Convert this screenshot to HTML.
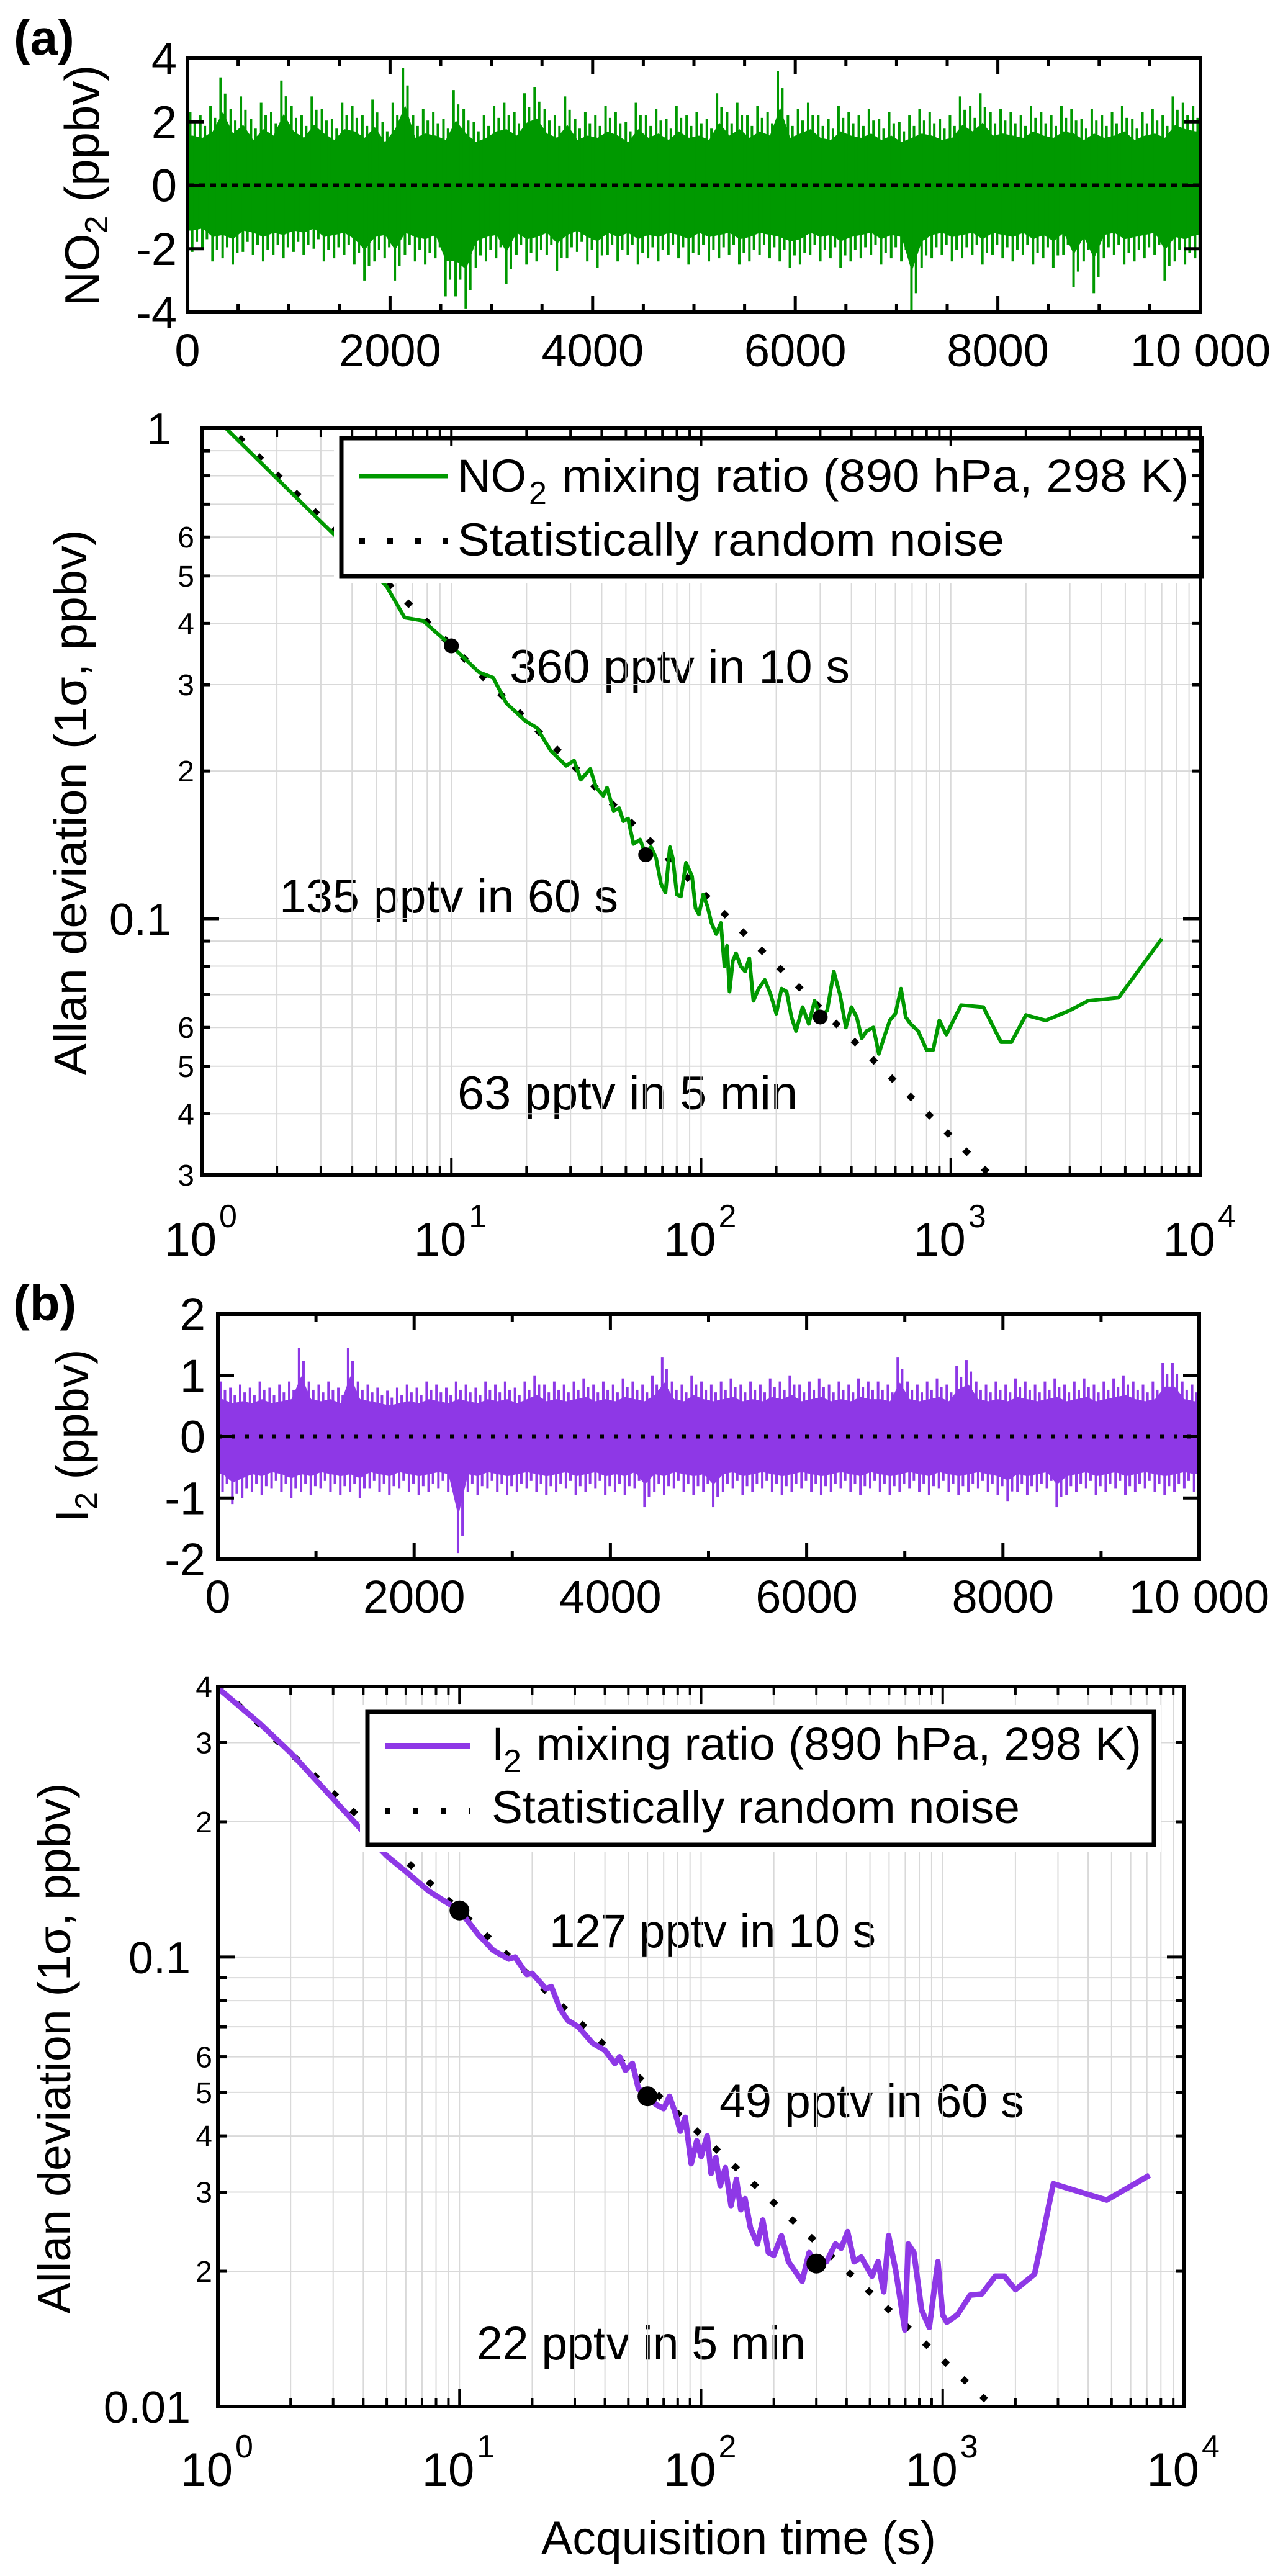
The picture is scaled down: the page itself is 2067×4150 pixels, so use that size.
<!DOCTYPE html>
<html><head><meta charset="utf-8"><title>Allan deviation NO2 and I2</title>
<style>
html,body{margin:0;padding:0;background:#fff;}
svg{display:block;font-family:"Liberation Sans",Arial,sans-serif;}
</style></head>
<body>
<svg id="fig" xmlns="http://www.w3.org/2000/svg" width="2067" height="4150" viewBox="0 0 2067 4150">
<rect x="0" y="0" width="2067" height="4150" fill="#fff"/>
<defs>
<clipPath id="clipAA"><rect x="325" y="690" width="1609" height="1203"/></clipPath>
<clipPath id="clipAB"><rect x="351" y="2717" width="1557" height="1160"/></clipPath>
</defs>
<text x="22" y="88" font-size="80" font-weight="bold">(a)</text>
<text x="21" y="2127" font-size="80" font-weight="bold">(b)</text>
<text transform="translate(159,299) rotate(-90)" text-anchor="middle" font-size="78">NO<tspan font-size="52" dy="14">2</tspan><tspan dy="-14"> (ppbv)</tspan></text>
<text transform="translate(142,2313) rotate(-90)" text-anchor="middle" font-size="74">I<tspan font-size="50" dy="14">2</tspan><tspan dy="-14"> (ppbv)</tspan></text>
<text transform="translate(139,1293) rotate(-90)" text-anchor="middle" font-size="74" textLength="879" lengthAdjust="spacingAndGlyphs">Allan deviation (1σ, ppbv)</text>
<text transform="translate(113,3300) rotate(-90)" text-anchor="middle" font-size="74" textLength="855" lengthAdjust="spacingAndGlyphs">Allan deviation (1σ, ppbv)</text>
<text x="872" y="4115" font-size="76" textLength="636" lengthAdjust="spacingAndGlyphs">Acquisition time (s)</text>
<text x="821" y="1100" font-size="76" textLength="548" lengthAdjust="spacingAndGlyphs">360 pptv in 10 s</text>
<text x="450" y="1470" font-size="76" textLength="546" lengthAdjust="spacingAndGlyphs">135 pptv in 60 s</text>
<text x="737" y="1787" font-size="76" textLength="548" lengthAdjust="spacingAndGlyphs">63 pptv in 5 min</text>
<text x="885" y="3137" font-size="76" textLength="526" lengthAdjust="spacingAndGlyphs">127 pptv in 10 s</text>
<text x="1159" y="3411" font-size="76" textLength="491" lengthAdjust="spacingAndGlyphs">49 pptv in 60 s</text>
<text x="768" y="3801" font-size="76" textLength="530" lengthAdjust="spacingAndGlyphs">22 pptv in 5 min</text>
</svg>
<script>
// ---------- data ----------
const hiA = [2.3,2.2,2.5,3.4,2.4,2.8,2.1,2.6,2.3,3.3,2.5,2.2,2.8,2.4,2.1,2.6,2.5,2.2,2.7,2.0,2.6,3.7,2.2,2.4,2.3,2.1,3.0,2.4,2.0,2.2,2.5,2.6,2.3,2.9,3.1,2.4,2.2,2.8,2.1,2.3,2.2,2.5,2.3,2.0,2.6,2.2,2.4,2.1,2.5,2.2,2.3,2.1,2.9,2.3,2.6,2.2,2.5,2.3,3.6,2.2,2.4,2.6,2.2,2.1,2.5,2.3,2.2,2.4,2.1,2.3,2.0,2.2,2.4,2.3,2.1,2.2,2.8,2.5,2.9,2.3,2.4,2.3,2.2,2.5,2.3,2.2,2.5,2.4,2.1,2.4,2.2,2.3,2.5,2.1,2.3,2.4,2.2,2.8,2.6,2.5];
const loA = [-2.1,-2.0,-2.4,-2.3,-2.5,-2.1,-2.2,-2.4,-2.2,-2.3,-2.1,-2.2,-2.0,-2.4,-2.3,-2.2,-2.5,-3.0,-2.4,-2.3,-3.0,-2.2,-2.4,-2.5,-2.3,-3.5,-3.5,-3.9,-2.6,-2.4,-2.3,-3.1,-2.2,-2.5,-2.4,-2.2,-2.7,-2.3,-2.1,-2.4,-2.6,-2.2,-2.4,-2.2,-2.5,-2.3,-2.4,-2.2,-2.3,-2.5,-2.2,-2.4,-2.3,-2.2,-2.5,-2.4,-2.2,-2.3,-2.4,-2.6,-2.5,-2.2,-2.4,-2.3,-2.6,-2.4,-2.3,-2.2,-2.5,-2.3,-2.4,-4.0,-2.6,-2.3,-2.2,-2.4,-2.3,-2.2,-2.5,-2.2,-2.3,-2.4,-2.2,-2.5,-2.3,-2.6,-2.2,-3.2,-2.4,-3.4,-2.3,-2.2,-2.5,-2.4,-2.3,-2.2,-3.0,-2.4,-2.5,-2.3];
const hiB = [0.9,0.8,0.85,0.8,0.9,0.8,0.85,0.9,1.45,0.9,0.85,0.9,0.8,1.45,0.9,0.85,0.8,0.75,0.8,0.85,0.8,0.9,0.85,0.8,0.9,0.85,0.8,0.9,0.85,0.9,0.8,0.9,1.0,0.85,0.9,0.85,0.9,0.95,0.85,0.9,0.85,0.95,0.9,0.85,1.0,1.3,0.9,0.85,1.0,0.9,0.85,0.9,0.95,0.85,0.9,0.85,0.95,0.9,1.0,0.85,0.9,0.95,0.85,0.9,0.85,0.95,0.9,0.9,0.85,1.3,0.9,0.85,0.9,0.95,0.85,1.15,1.25,0.9,0.85,0.9,0.85,0.95,0.9,0.85,0.9,0.95,0.85,0.9,0.95,0.85,0.9,0.95,1.0,0.9,0.85,0.9,1.2,1.2,0.9,0.85];
const loB = [-0.9,-1.1,-1.0,-0.9,-0.95,-0.85,-0.9,-1.0,-0.9,-0.95,-0.85,-0.9,-0.95,-0.9,-1.0,-0.85,-0.9,-0.95,-0.85,-0.9,-0.95,-0.9,-0.85,-0.9,-1.9,-0.9,-0.95,-0.85,-0.9,-0.95,-0.9,-0.85,-0.9,-0.95,-0.9,-0.85,-0.95,-0.9,-0.85,-0.95,-0.9,-0.95,-0.85,-1.15,-0.9,-0.95,-0.85,-0.9,-0.95,-0.9,-1.15,-0.9,-0.85,-0.95,-0.9,-0.85,-0.9,-0.95,-0.9,-0.85,-0.9,-0.95,-0.9,-0.85,-0.9,-0.95,-0.85,-0.9,-0.95,-0.9,-0.85,-0.9,-0.95,-0.85,-0.9,-0.95,-0.9,-0.85,-0.9,-0.95,-1.05,-0.9,-0.95,-0.9,-0.85,-1.15,-0.95,-0.9,-0.85,-0.95,-0.9,-0.85,-0.95,-0.9,-0.85,-0.9,-0.95,-0.9,-0.85,-0.9];
const tsBinSeconds = 100;

const tauA = [1.25,2,3,4,5.5,6.5,7.7,10,12.9,14.7,16.6,19.8,22,25,28.8,31,33,36,38,40.6,42,44.6,47,48.8,51,53.6,57,60,63,66,69,72,75,77,80,83,87,92,95,98,102,106,110,115,120,124,127,130,134,138,144,150,156,162,170,180,190,200,210,220,230,240,255,270,285,300,320,340,360,380,400,420,440,460,490,515,545,570,600,632,660,690,740,800,850,900,960,1100,1350,1590,1750,2000,2400,3000,3550,4700,7000];
const sigA = [1.0,0.79,0.645,0.56,0.476,0.411,0.405,0.36,0.318,0.31,0.275,0.253,0.245,0.22,0.205,0.21,0.192,0.202,0.185,0.178,0.185,0.166,0.168,0.158,0.16,0.142,0.145,0.135,0.14,0.133,0.118,0.113,0.14,0.133,0.112,0.111,0.13,0.122,0.105,0.102,0.112,0.106,0.098,0.093,0.098,0.08,0.088,0.071,0.082,0.085,0.08,0.078,0.083,0.068,0.072,0.075,0.07,0.064,0.072,0.071,0.063,0.059,0.066,0.061,0.068,0.063,0.065,0.078,0.07,0.06,0.066,0.063,0.057,0.059,0.06,0.053,0.058,0.062,0.064,0.072,0.063,0.061,0.059,0.054,0.054,0.062,0.058,0.0666,0.066,0.056,0.056,0.0636,0.062,0.065,0.068,0.069,0.091];
const tauB = [1,1.5,2,3,4,5,6,7.5,10,12,13.8,16,17,19,20,22.8,24,26,28,31,35.5,40,44,46,48.6,52,55,60,65,70,74,78,82,86,91,96,100,106,110,115,120,126,133,140,146,152,160,171,180,190,200,215,230,245,262,280,300,330,360,380,404,430,460,510,540,570,597,640,697,720,760,818,880,955,1000,1040,1150,1300,1450,1650,1800,2000,2400,2870,4770,7180];
const sigB = [0.397,0.33,0.285,0.225,0.19,0.168,0.155,0.14,0.127,0.112,0.1035,0.099,0.1,0.0915,0.092,0.085,0.086,0.077,0.0724,0.07,0.0644,0.062,0.058,0.06,0.056,0.058,0.051,0.049,0.047,0.046,0.049,0.0452,0.041,0.044,0.0347,0.039,0.036,0.04,0.033,0.0358,0.031,0.034,0.028,0.032,0.0274,0.029,0.025,0.023,0.026,0.022,0.0217,0.024,0.021,0.02,0.019,0.022,0.0208,0.021,0.023,0.0225,0.0245,0.021,0.0215,0.0195,0.021,0.018,0.024,0.02,0.0148,0.023,0.022,0.0164,0.015,0.021,0.016,0.0154,0.016,0.0177,0.0178,0.0195,0.0195,0.0182,0.0197,0.0313,0.0288,0.0327];

const markTauA = [10,60,300];
const markSigA = [0.36,0.135,0.063];
const markTauB = [10,60,300];
const markSigB = [0.127,0.049,0.0208];
const noiseRefA = 0.36;
const noiseRefB = 0.127;

const tsXTicks = [0,2000,4000,6000,8000,10000];
const tsXTickLabels = ["0","2000","4000","6000","8000","10 000"];
const tsAYTicks = [4,2,0,-2,-4];
const tsAYLabels = ["4","2","0","-2","-4"];
const tsBYTicks = [2,1,0,-1,-2];
const tsBYLabels = ["2","1","0","-1","-2"];
const decades = [0,1,2,3,4];
const allanAYTicks = [1,0.6,0.5,0.4,0.3,0.2,0.1,0.06,0.05,0.04,0.03];
const allanAYLabels = ["1","6","5","4","3","2","0.1","6","5","4","3"];
const allanBYTicks = [0.4,0.3,0.2,0.1,0.06,0.05,0.04,0.03,0.02,0.01];
const allanBYLabels = ["4","3","2","0.1","6","5","4","3","2","0.01"];

// ---------- helpers ----------
const NS = "http://www.w3.org/2000/svg";
const svg = document.getElementById('fig');
function add(parent, tag, attrs){
  const e = document.createElementNS(NS, tag);
  for (const k in attrs) e.setAttribute(k, attrs[k]);
  parent.appendChild(e);
  return e;
}
const L10 = Math.log10;

const tsA = {x0:302, x1:1934, y0:94, y1:503, vmin:-4, vmax:4};
const tsB = {x0:351, x1:1932, y0:2117, y1:2512, vmin:-2, vmax:2};
const alA = {x0:325, x1:1934, y0:690, y1:1893, smax:1, smin:0.03};
const alB = {x0:351, x1:1908, y0:2717, y1:3877, smax:0.4, smin:0.01};
function tsx(p, t){ return p.x0 + t/10000*(p.x1-p.x0); }
function tsy(p, v){ return p.y0 + (p.vmax - v)/(p.vmax-p.vmin)*(p.y1-p.y0); }
function alx(p, t){ return p.x0 + L10(t)/4*(p.x1-p.x0); }
function aly(p, s){ return p.y0 + (L10(p.smax)-L10(s))/(L10(p.smax)-L10(p.smin))*(p.y1-p.y0); }

const CORE = 0.68;
function drawTS(p, hi, lo, color, prefix, yTicks, yLabels, yLabelRight, xLabBase, minorStep, dash){
  const g = add(svg,'g',{});
  
  
  const up = [], dn = [];
  up.push(p.x0+','+tsy(p, hi[0]*CORE));
  for (let i=0;i<hi.length;i++){
    const xc = tsx(p,(i+0.5)*tsBinSeconds);
    up.push(xc+','+tsy(p, hi[i]*CORE));
  }
  up.push(p.x1+','+tsy(p, hi[hi.length-1]*CORE));
  dn.push(p.x1+','+tsy(p, lo[lo.length-1]*CORE));
  for (let i=lo.length-1;i>=0;i--){
    const xc = tsx(p,(i+0.5)*tsBinSeconds);
    dn.push(xc+','+tsy(p, lo[i]*CORE));
  }
  dn.push(p.x0+','+tsy(p, lo[0]*CORE));
  const band = add(g,'polygon',{points: up.concat(dn).join(' '), fill: color});
  
  
  const w = (p.x1-p.x0)/hi.length;
  for (let i=0;i<hi.length;i++){
    const xa = tsx(p, i*tsBinSeconds);
    const s1 = add(g,'rect',{x: xa+w*0.15, y: tsy(p,hi[i]), width: 4, height: tsy(p,0)-tsy(p,hi[i]), fill: color});
    
    
    const s2 = add(g,'rect',{x: xa+w*0.6, y: tsy(p,hi[i]*0.85), width: 4, height: tsy(p,0)-tsy(p,hi[i]*0.85), fill: color});
    
    
    const s3 = add(g,'rect',{x: xa+w*0.35, y: tsy(p,0), width: 4, height: tsy(p,lo[i])-tsy(p,0), fill: color});
    
    
    const s4 = add(g,'rect',{x: xa+w*0.8, y: tsy(p,0), width: 4, height: tsy(p,lo[i]*0.85)-tsy(p,0), fill: color});
    
    
  }
  const z = add(g,'line',{x1:p.x0, x2:p.x1, y1:tsy(p,0), y2:tsy(p,0), stroke:'#000', 'stroke-width':6, 'stroke-dasharray':dash});
  
  
  for (let t=0;t<=10000;t+=minorStep){
    const major = (t%2000===0);
    const len = major?26:13;
    const x = tsx(p,t);
    const tb = add(g,'line',{x1:x,x2:x,y1:p.y1,y2:p.y1-len,stroke:'#000','stroke-width':5});
    
    
    const tt = add(g,'line',{x1:x,x2:x,y1:p.y0,y2:p.y0+len,stroke:'#000','stroke-width':5});
    
    
  }
  for (let i=0;i<tsXTicks.length;i++){
    const lab = add(g,'text',{x: tsx(p,tsXTicks[i]), y: xLabBase, 'font-size':74, 'text-anchor':'middle'});
    lab.textContent = tsXTickLabels[i];
    
    
  }
  for (let i=0;i<yTicks.length;i++){
    const y = tsy(p,yTicks[i]);
    const tl = add(g,'line',{x1:p.x0,x2:p.x0+26,y1:y,y2:y,stroke:'#000','stroke-width':5});
    
    
    const tr = add(g,'line',{x1:p.x1,x2:p.x1-26,y1:y,y2:y,stroke:'#000','stroke-width':5});
    
    
    const lab = add(g,'text',{x: yLabelRight, y: y+26, 'font-size':74, 'text-anchor':'end'});
    lab.textContent = yLabels[i];
    
    
  }
  const fr = add(g,'rect',{x:p.x0,y:p.y0,width:p.x1-p.x0,height:p.y1-p.y0,fill:'none',stroke:'#000','stroke-width':6});
  
  
}
drawTS(tsA, hiA, loA, '#009900', 'no2', tsAYTicks, tsAYLabels, 285, 590, 500, '10 8');
drawTS(tsB, hiB, loB, '#8e38e6', 'i2', tsBYTicks, tsBYLabels, 331, 2598, 1000, '6 16');

function drawAllan(p, tau, sig, mT, mS, ref, color, lw, prefix, species, yT, yL, majRight, minRight, clip, xBase, leg, mr){
  const g = add(svg,'g',{});
  
  
  for (const d of decades){
    for (let k=1;k<=9;k++){
      const t = k*Math.pow(10,d);
      if (t<=1 || t>=10000) continue;
      const x = alx(p,t);
      const gl = add(g,'line',{x1:x,x2:x,y1:p.y0,y2:p.y1,stroke:'#d9d9d9','stroke-width':2});
      
      
    }
  }
  for (let d=-3; d<=0; d++){
    for (let k=1;k<=9;k++){
      const s = k*Math.pow(10,d);
      if (s>=p.smax-1e-9 || s<=p.smin+1e-9) continue;
      const y = aly(p,s);
      const gl = add(g,'line',{x1:p.x0,x2:p.x1,y1:y,y2:y,stroke:'#d9d9d9','stroke-width':2});
      
      
    }
  }
  const dg = add(g,'g',{'clip-path':'url(#'+clip+')'});
  const tEnd = 10*Math.pow(ref/p.smin,2);
  const nl = add(dg,'line',{x1:alx(p,1),y1:aly(p,ref*Math.sqrt(10)),x2:alx(p,tEnd),y2:aly(p,p.smin),stroke:'#000','stroke-width':10,'stroke-dasharray':'10 32'});
  
  
  const pts = tau.map((t,i)=>alx(p,t)+','+aly(p,sig[i])).join(' ');
  const dl = add(dg,'polyline',{points:pts,fill:'none',stroke:color,'stroke-width':lw,'stroke-linejoin':'round'});
  
  
  const lg = add(g,'g',{});
  
  
  add(lg,'rect',{x:leg.x-12,y:leg.y-12,width:leg.w+24,height:leg.h+24,fill:'#fff'});
  const lb = add(lg,'rect',{x:leg.x,y:leg.y,width:leg.w,height:leg.h,fill:'#fff',stroke:'#000','stroke-width':7});
  
  
  const ls = add(lg,'line',{x1:leg.lx0,x2:leg.lx1,y1:leg.ly1,y2:leg.ly1,stroke:color,'stroke-width':lw+1});
  
  
  const ld = add(lg,'line',{x1:leg.lx0,x2:leg.lx1,y1:leg.ly2,y2:leg.ly2,stroke:'#000','stroke-width':10,'stroke-dasharray':'9 36'});
  
  
  const t1 = add(lg,'text',{x:leg.tx, y:leg.tb1, 'font-size':74});
  t1.textContent = species;
  
  
  const t1s = add(lg,'text',{x:leg.subx, y:leg.tb1+20, 'font-size':52});
  t1s.textContent = '2';
  
  
  const t1r = add(lg,'text',{x:leg.rx, y:leg.tb1, 'font-size':74, textLength:leg.rw, lengthAdjust:'spacingAndGlyphs'});
  t1r.textContent = 'mixing ratio (890 hPa, 298 K)';
  
  
  const t2 = add(lg,'text',{x:leg.tx, y:leg.tb2, 'font-size':74, textLength:leg.w2, lengthAdjust:'spacingAndGlyphs'});
  t2.textContent = 'Statistically random noise';
  
  
  for (let i=0;i<mT.length;i++){
    const c = add(g,'circle',{cx:alx(p,mT[i]),cy:aly(p,mS[i]),r:mr,fill:'#000'});
    
    
  }
  for (const d of decades){
    for (let k=1;k<=9;k++){
      const t = k*Math.pow(10,d);
      if (t>10000) continue;
      const x = alx(p,t);
      const len = (k===1)?28:14;
      const a = add(g,'line',{x1:x,x2:x,y1:p.y1,y2:p.y1-len,stroke:'#000','stroke-width':4});
      
      
      const b = add(g,'line',{x1:x,x2:x,y1:p.y0,y2:p.y0+len,stroke:'#000','stroke-width':4});
      
      
    }
    const xd = alx(p,Math.pow(10,d));
    const lab = add(g,'text',{x:xd+24, y:xBase, 'font-size':76, 'text-anchor':'end'});
    lab.textContent = '10';
    
    
    const sup = add(g,'text',{x:xd+28, y:xBase-46, 'font-size':52});
    sup.textContent = String(d);
    
    
  }
  for (let d=-3; d<=0; d++){
    for (let k=1;k<=9;k++){
      const s = k*Math.pow(10,d);
      if (s>p.smax+1e-9 || s<p.smin-1e-9) continue;
      const y = aly(p,s);
      const len = (k===1)?28:14;
      const a = add(g,'line',{x1:p.x0,x2:p.x0+len,y1:y,y2:y,stroke:'#000','stroke-width':5});
      
      
      const b = add(g,'line',{x1:p.x1,x2:p.x1-len,y1:y,y2:y,stroke:'#000','stroke-width':5});
      
      
    }
  }
  for (let i=0;i<yT.length;i++){
    const major = yL[i].length>1 || yL[i]==='1';
    const lab = add(g,'text',{x: major?majRight:minRight, y: aly(p,yT[i]) + (major?26:17), 'font-size': major?72:48, 'text-anchor':'end'});
    lab.textContent = yL[i];
    
    
  }
  const fr = add(g,'rect',{x:p.x0,y:p.y0,width:p.x1-p.x0,height:p.y1-p.y0,fill:'none',stroke:'#000','stroke-width':6});
  
  
}
drawAllan(alA, tauA, sigA, markTauA, markSigA, noiseRefA, '#009900', 6, 'no2', 'NO', allanAYTicks, allanAYLabels, 276, 313, 'clipAA', 2023,
  {x:550,y:706,w:1386,h:222,lx0:579,lx1:722,ly1:767,ly2:871,tx:737,tb1:792,subx:852,rx:905,rw:1010,tb2:895,w2:881}, 12);
drawAllan(alB, tauB, sigB, markTauB, markSigB, noiseRefB, '#8e38e6', 9, 'i2', 'I', allanBYTicks, allanBYLabels, 307, 342, 'clipAB', 4005,
  {x:592,y:2758,w:1267,h:214,lx0:620,lx1:758,ly1:2813,ly2:2918,tx:792,tb1:2835,subx:811,rx:864,rw:975,tb2:2937,w2:851}, 16);
</script>
</body></html>
